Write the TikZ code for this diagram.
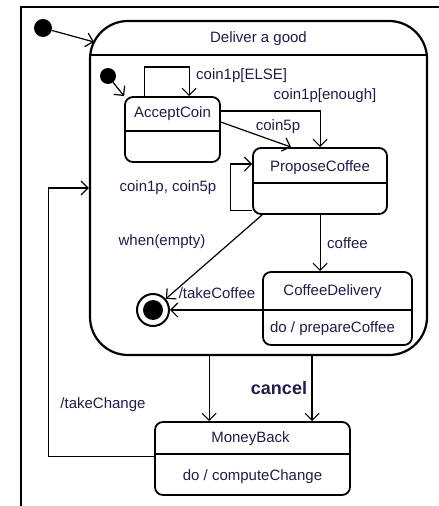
\documentclass[tikz,border=0pt]{standalone}
\usepackage{fontspec}
\setmainfont{Liberation Sans}
\usetikzlibrary{arrows.meta}
\definecolor{ink}{RGB}{30,30,70}

\begin{document}
\begin{tikzpicture}[x=1pt, y=1pt,
    state/.style={draw, line width=1.8pt, rounded corners=8pt, inner sep=0pt},
    trans/.style={line width=1.2pt, -{Straight Barb[length=7pt,width=14pt,line width=1.2pt]}},
    txt/.style={font=\fontsize{15}{18}\selectfont, text=ink, inner sep=0pt}]
      \useasboundingbox (0,0) rectangle (439,506);
      \draw[line width=1.8pt] (21,0) -- (21,499) -- (439,499);
      % superstate
      \node[state, line width=2.2pt, rounded corners=38pt, minimum width=337pt, minimum height=334pt] (deliver) at (258.5,318) {};
      \draw[line width=2pt] ([yshift=-35pt]deliver.north west) -- ([yshift=-35pt]deliver.north east);
      \node[txt] (delivername) at ([yshift=-19pt]deliver.north) {Deliver a good};
      % states
      \node[state, minimum width=95pt, minimum height=65pt] (accept) at (172.5,376.5) {};
      \node[state, minimum width=134pt, minimum height=66pt] (propose) at (320,325) {};
      \node[state, minimum width=149pt, minimum height=73pt] (coffee) at (337.5,197.5) {};
      \node[state, minimum width=195pt, minimum height=73pt] (money) at (252.5,47.5) {};
      \draw[line width=1.8pt] ([yshift=-35pt]accept.north west) -- ([yshift=-35pt]accept.north east);
      \draw[line width=1.8pt] ([yshift=-36pt]propose.north west) -- ([yshift=-36pt]propose.north east);
      \draw[line width=1.8pt] ([yshift=-39pt]coffee.north west) -- ([yshift=-39pt]coffee.north east);
      \draw[line width=1.8pt] ([yshift=-33pt]money.north west) -- ([yshift=-33pt]money.north east);
      \node[txt] (acceptname) at ([yshift=-18pt]accept.north) {AcceptCoin};
      \node[txt] (proposename) at ([yshift=-21pt]propose.north) {ProposeCoffee};
      \node[txt] (coffeename) at ([xshift=-5pt,yshift=-21pt]coffee.north) {CoffeeDelivery};
      \node[txt] (coffeedo) at ([xshift=-5pt,yshift=17pt]coffee.south) {do / prepareCoffee};
      \node[txt] (moneyname) at ([xshift=-2pt,yshift=-18pt]money.north) {MoneyBack};
      \node[txt] (moneydo) at ([yshift=19pt]money.south) {do / computeChange};
      % pseudo states
      \node[circle, fill, minimum size=18pt, inner sep=0pt] (init) at (43,478) {};
      \node[circle, fill, minimum size=16pt, inner sep=0pt] (initin) at (108,430) {};
      \node[circle, draw, line width=2pt, minimum size=32pt, inner sep=0pt] (final) at (153,196) {};
      \fill (final.center) circle (10);
      \coordinate (entry) at (94,464);
      % transitions
      \draw[trans] (init) -- (entry);
      \draw[trans] (initin) -- (accept.north west);
      \draw[trans] ([xshift=20pt]accept.north west) -- ++(0,29) -| ([xshift=65pt]accept.north west);
      \node[txt, anchor=west] (elselbl) at (196,430) {coin1p[ELSE]};
      \draw[trans] ([yshift=-15pt]accept.north east) -| ([xshift=68pt]propose.north west);
      \node[txt] (enoughlbl) at (325,410) {coin1p[enough]};
      \draw[trans] ([yshift=-26pt]accept.north east) -- ([xshift=39pt]propose.north west);
      \node[txt] (coin5lbl) at (278,379) {coin5p};
      \draw[trans] ([yshift=4pt]propose.south west) -- ++(-22,0) |- ([yshift=-17pt]propose.north west);
      \node[txt] (looplbl) at (168,318) {coin1p, coin5p};
      \draw[trans] ([xshift=10pt]propose.south west) -- (final);
      \node[txt] (emptylbl) at (162,264) {when(empty)};
      \draw[trans] ([xshift=68pt]propose.south west) -- ([xshift=68pt]propose.south west |- coffee.north);
      \node[txt, anchor=west] (coffeelbl) at (327,263) {coffee};
      \draw[trans] (coffee.west |- final) -- (final);
      \node[txt] (takecoffeelbl) at (217,213) {/takeCoffee};
      \draw[trans] ([xshift=55pt]money.north west |- deliver.south) -- ([xshift=55pt]money.north west);
      \draw[trans, line width=1.8pt] ([xshift=158pt]money.north west |- deliver.south) -- ([xshift=158pt]money.north west);
      \node[txt, font=\fontsize{18}{21}\selectfont\bfseries] (cancellbl) at (279,118) {cancel};
      \draw[trans] ([yshift=2pt]money.west) -- ++(-106,0) |- (deliver.west);
      \node[txt] (changelbl) at (103,101) {/takeChange};
    \end{tikzpicture}
\end{document}
